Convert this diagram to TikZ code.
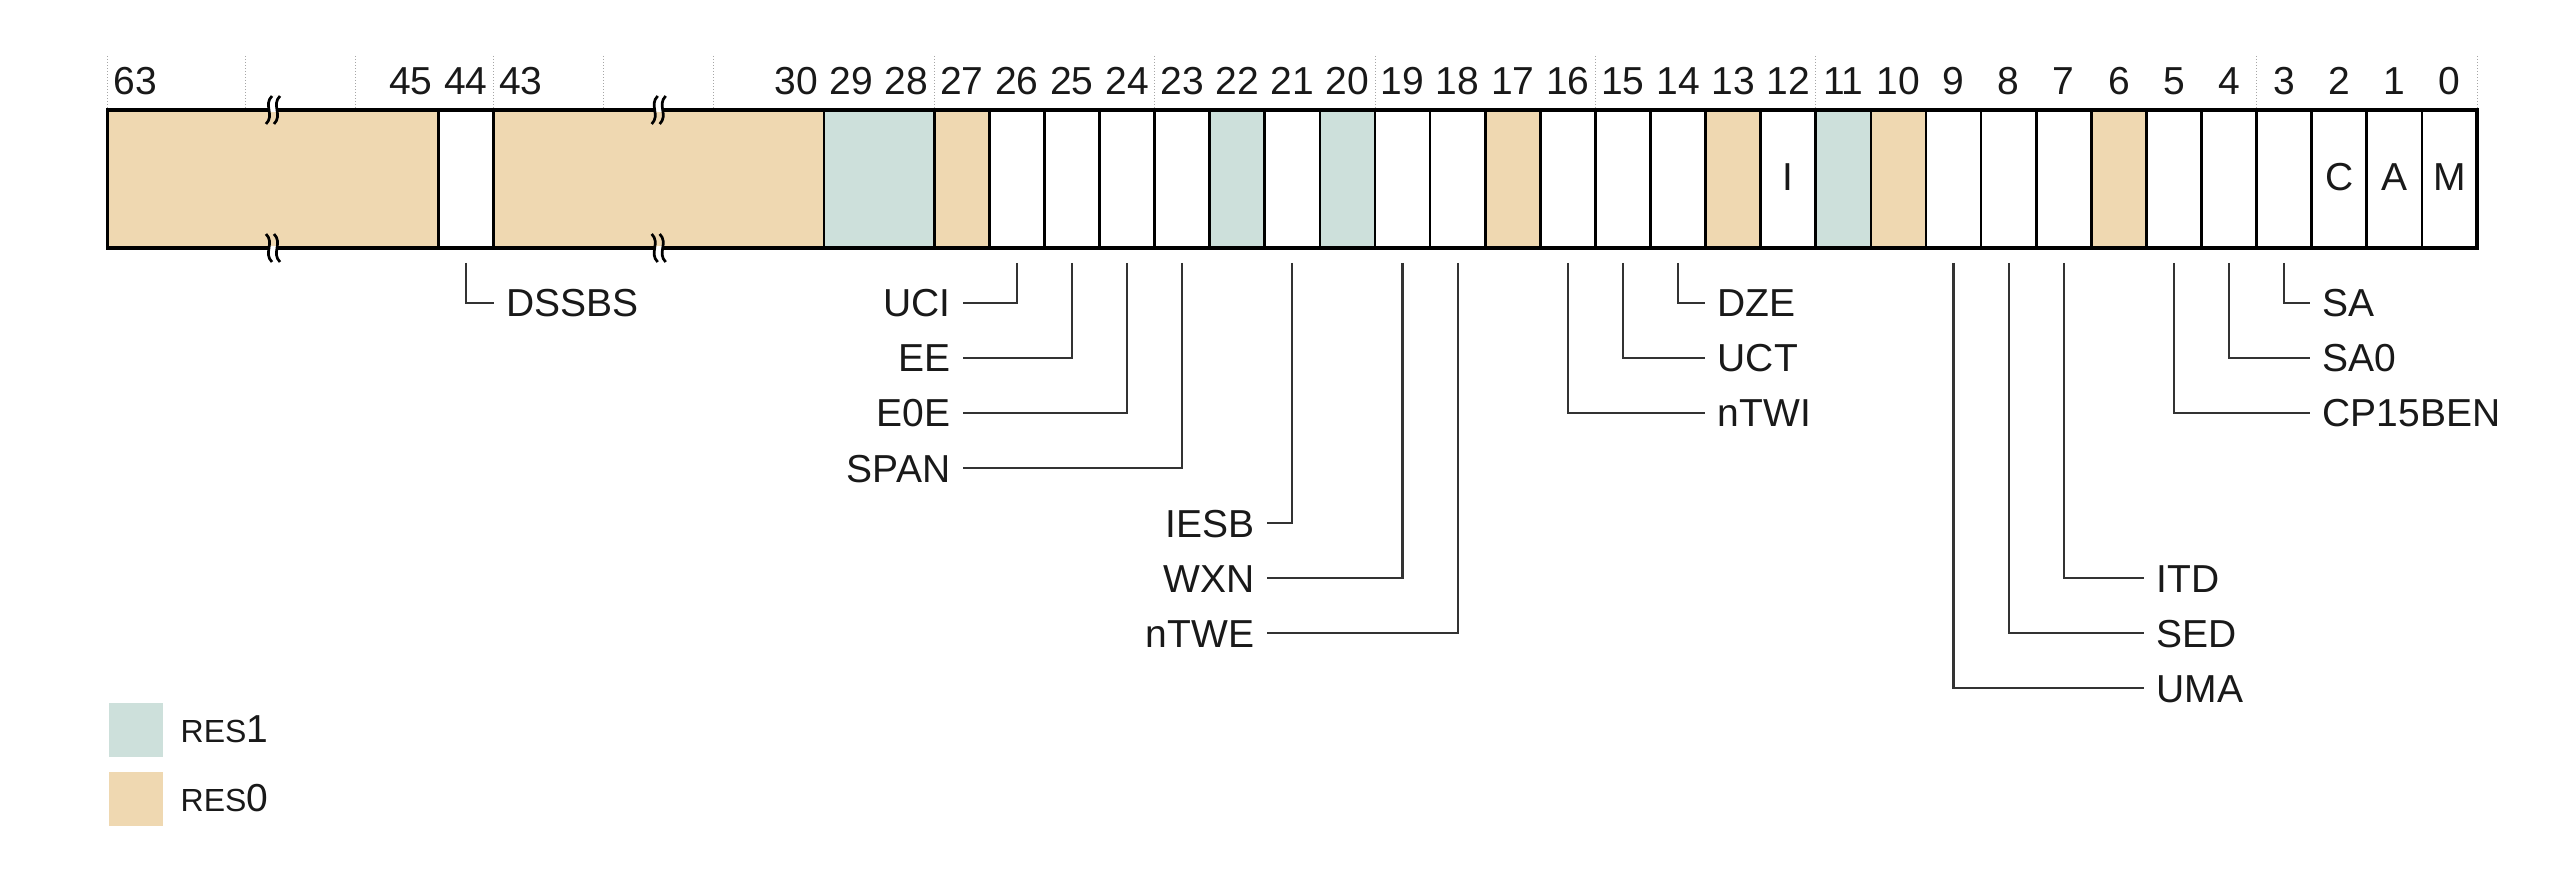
\documentclass[tikz,border=0pt]{standalone}
\usepackage{fontspec}
\setmainfont{Liberation Sans}
\definecolor{resone}{RGB}{205,224,219}
\definecolor{reszero}{RGB}{239,216,177}
\definecolor{txt}{RGB}{25,25,25}
\newcommand\regx[1]{107.7+(#1)*55.1}
\newcommand\bitc[1]{107.7+(42.5-(#1))*55.1}
\tikzset{
  brk/.pic={
    \fill[reszero] (-1,-14) .. controls (-10,-5) and (2,5) .. (-7,14) -- (1,14) .. controls (10,5) and (-2,-5) .. (7,-14) -- cycle;
    \begin{scope}
      \clip (-20,-20) rectangle (20,1.6);
      \fill[white] (-1,-14) .. controls (-10,-5) and (2,5) .. (-7,14) -- (1,14) .. controls (10,5) and (-2,-5) .. (7,-14) -- cycle;
    \end{scope}
    \draw[line width=0.27mm, black] (-1,-14) .. controls (-10,-5) and (2,5) .. (-7,14);
    \draw[line width=0.27mm, black] (7,-14) .. controls (-2,-5) and (10,5) .. (1,14);
  }
}
\begin{document}
\begin{tikzpicture}[x=0.1mm,y=-0.1mm,
  every node/.style={font=\fontsize{11.1pt}{13pt}\selectfont, text=txt, text height=2.8mm, text depth=0pt, inner sep=0pt},
  hdr/.style={anchor=base},
  lblW/.style={anchor=west, inner xsep=1.2mm},
  lblE/.style={anchor=east, inner xsep=1.2mm},
  conn/.style={line width=0.22mm, draw=black!80},
  divline/.style={line width=0.27mm, draw=black},
  outer/.style={line width=0.32mm, draw=black},
  guide/.style={line width=0.1mm, draw=gray!70, dash pattern=on 0.15mm off 0.15mm},
  legsq/.style={minimum width=5.4mm, minimum height=5.4mm, text height=0pt, draw=none}
]
\useasboundingbox (0,0) rectangle (2560,874);

% guide lines above register
\foreach \u in {0,2.5,4.5,7,9,11,15,19,23,27,31,39,43}
  \draw[guide] ({\regx{\u}},56) -- ({\regx{\u}},110);

% fills
\fill[reszero] ({\regx{0}},110) rectangle ({\regx{6}},248);
\fill[reszero] ({\regx{7}},110) rectangle ({\regx{13}},248);
\fill[resone] ({\regx{13}},110) rectangle ({\regx{15}},248);
\foreach \b in {27,17,13,10,6}
  \fill[reszero] ({\regx{42-\b}},110) rectangle ({\regx{43-\b}},248);
\foreach \b in {22,20,11}
  \fill[resone] ({\regx{42-\b}},110) rectangle ({\regx{43-\b}},248);

% dividers and border
\foreach \u in {6,7,13,15,16,...,42}
  \draw[divline] ({\regx{\u}},110) -- ({\regx{\u}},248);
\draw[outer] ({\regx{0}},110) rectangle ({\regx{43}},248);

% break marks
\pic at ({\regx{3}},110) {brk};
\pic at ({\regx{10}},110) {brk};
\pic[yscale=-1] at ({\regx{3}},248) {brk};
\pic[yscale=-1] at ({\regx{10}},248) {brk};

% header numbers
\node[hdr] (h63) at ({\regx{0.5}},95) {63};
\node[hdr] (h45) at ({\regx{5.5}},95) {45};
\node[hdr] (h44) at ({\regx{6.5}},95) {44};
\node[hdr] (h43) at ({\regx{7.5}},95) {43};
\foreach \b in {0,...,30}
  \node[hdr] (h\b) at ({\bitc{\b}},95) {\b};

% in-cell letters
\node[hdr] (fI) at ({\bitc{12}},191) {I};
\node[hdr] (fC) at ({\bitc{2}},191) {C};
\node[hdr] (fA) at ({\bitc{1}},191) {A};
\node[hdr] (fM) at ({\bitc{0}},191) {M};

% connector start points
\coordinate (c44) at ({\regx{6.5}},263);
\foreach \b in {26,25,24,23,21,19,18,16,15,14,9,8,7,5,4,3}
  \coordinate (c\b) at ({\bitc{\b}},263);

% labels
\node[lblW] (dssbs) at (494,303) {DSSBS};
\node[lblE] (uci) at (963,303) {UCI};
\node[lblE] (ee) at (963,358) {EE};
\node[lblE] (e0e) at (963,413) {E0E};
\node[lblE] (span) at (963,468) {SPAN};
\node[lblE] (iesb) at (1267,523) {IESB};
\node[lblE] (wxn) at (1267,578) {WXN};
\node[lblE] (ntwe) at (1267,633) {nTWE};
\node[lblW] (dze) at (1705,303) {DZE};
\node[lblW] (uct) at (1705,358) {UCT};
\node[lblW] (ntwi) at (1705,413) {nTWI};
\node[lblW] (itd) at (2144,578) {ITD};
\node[lblW] (sed) at (2144,633) {SED};
\node[lblW] (uma) at (2144,688) {UMA};
\node[lblW] (sa) at (2310,303) {SA};
\node[lblW] (sa0) at (2310,358) {SA0};
\node[lblW] (cpben) at (2310,413) {CP15BEN};

% connectors
\draw[conn] (c44) |- (dssbs.west);
\draw[conn] (c26) |- (uci.east);
\draw[conn] (c25) |- (ee.east);
\draw[conn] (c24) |- (e0e.east);
\draw[conn] (c23) |- (span.east);
\draw[conn] (c21) |- (iesb.east);
\draw[conn] (c19) |- (wxn.east);
\draw[conn] (c18) |- (ntwe.east);
\draw[conn] (c14) |- (dze.west);
\draw[conn] (c15) |- (uct.west);
\draw[conn] (c16) |- (ntwi.west);
\draw[conn] (c7) |- (itd.west);
\draw[conn] (c8) |- (sed.west);
\draw[conn] (c9) |- (uma.west);
\draw[conn] (c3) |- (sa.west);
\draw[conn] (c4) |- (sa0.west);
\draw[conn] (c5) |- (cpben.west);

% legend
\node[legsq, fill=resone] (lg1) at (136,730) {};
\node[legsq, fill=reszero] (lg0) at (136,799) {};
\node[anchor=base west] (lt1) at (180,742) {{\fontsize{9.1pt}{11pt}\selectfont RES}1};
\node[anchor=base west] (lt0) at (180,811) {{\fontsize{9.1pt}{11pt}\selectfont RES}0};
\end{tikzpicture}
\end{document}
